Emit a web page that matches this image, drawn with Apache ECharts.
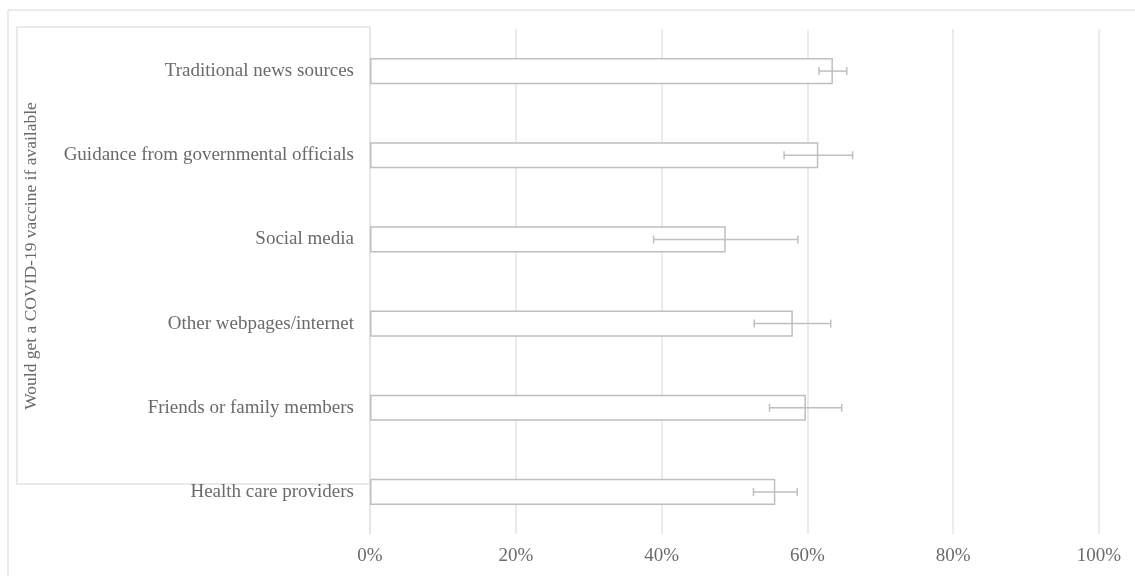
<!DOCTYPE html>
<html><head><meta charset="utf-8">
<script src="https://cdn.jsdelivr.net/npm/echarts@6/dist/echarts.min.js"></script>
<style>html,body{margin:0;padding:0;background:#fff}#c{width:1135px;height:576px}</style>
</head><body><div id="c"></div>
<script>
const categories = ["Traditional news sources","Guidance from governmental officials","Social media","Other webpages/internet","Friends or family members","Health care providers"];
const values = [63.5, 61.5, 48.8, 58.0, 59.8, 55.6];
const errLow = [61.6, 56.8, 38.9, 52.7, 54.8, 52.6];
const errHigh = [65.4, 66.2, 58.7, 63.2, 64.7, 58.6];
const xTicks = [0, 20, 40, 60, 80, 100];
const axisTitle = "Would get a COVID-19 vaccine if available";

const chart = echarts.init(document.getElementById('c'), null, {renderer:'canvas'});
const font = "'Liberation Serif','Times New Roman',serif";
const txt = '#6a6a6a';
const lineC = '#bfbfbf';
chart.setOption({
  animation:false,
  grid:{left:370, right:36, top:29, bottom:42, containLabel:false},
  xAxis:{type:'value', min:xTicks[0], max:xTicks[xTicks.length-1], interval:20,
    axisLine:{show:false}, axisTick:{show:false},
    splitLine:{show:true, lineStyle:{color:'#e4e4e4', width:1.5}},
    axisLabel:{formatter:v=>v+'%', color:txt, fontFamily:font, fontSize:19, margin:13}},
  yAxis:{type:'category', data:categories, inverse:true,
    axisLine:{show:true, lineStyle:{color:'#e4e4e4', width:1.5}}, axisTick:{show:false},
    axisLabel:{color:txt, fontFamily:font, fontSize:19, margin:16}},
  graphic:[
    {type:'line', shape:{x1:8,y1:10,x2:1135,y2:10}, style:{stroke:'#e4e4e4', lineWidth:1.5}},
    {type:'line', shape:{x1:8,y1:10,x2:8,y2:576}, style:{stroke:'#e4e4e4', lineWidth:1.5}},
    {type:'rect', shape:{x:17,y:27,width:353,height:457}, style:{fill:'none', stroke:'#e4e4e4', lineWidth:1.5}, z:-1},
    {type:'text', x:31, y:256, rotation:Math.PI/2, style:{text:axisTitle, fill:txt, font:'17.5px '+font, textAlign:'center', textVerticalAlign:'middle'}}
  ],
  series:[
    {type:'bar', data:values, barWidth:'31%',
     itemStyle:{color:'#ffffff', borderColor:lineC, borderWidth:1.5}},
    {type:'custom', data:categories.map((c,i)=>[i, errLow[i], errHigh[i]]),
     renderItem:function(params, api){
       const idx = api.value(0);
       const p1 = api.coord([api.value(1), idx]);
       const p2 = api.coord([api.value(2), idx]);
       const h = 4;
       const st = {stroke:lineC, lineWidth:1.5};
       return {type:'group', children:[
         {type:'line', shape:{x1:p1[0],y1:p1[1],x2:p2[0],y2:p2[1]}, style:st},
         {type:'line', shape:{x1:p1[0],y1:p1[1]-h,x2:p1[0],y2:p1[1]+h}, style:st},
         {type:'line', shape:{x1:p2[0],y1:p2[1]-h,x2:p2[0],y2:p2[1]+h}, style:st}
       ]};
     },
     encode:{x:[1,2], y:0}, z:5}
  ]
});
</script></body></html>
